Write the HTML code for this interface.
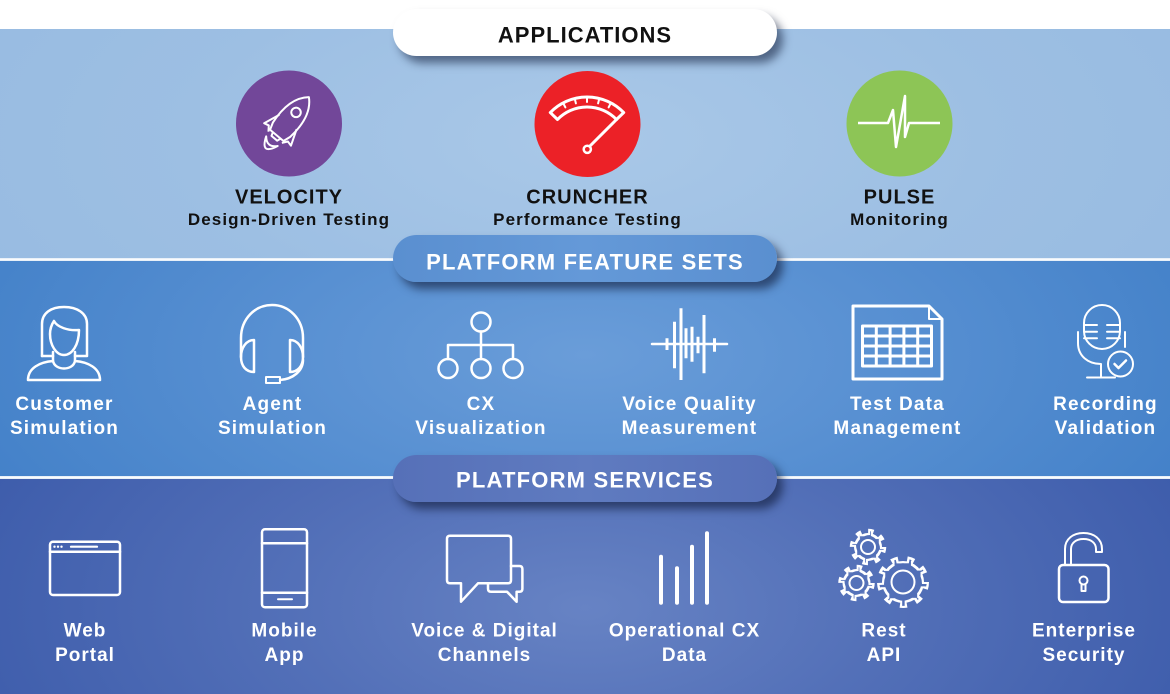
<!DOCTYPE html>
<html><head><meta charset="utf-8"><style>
html,body{margin:0;padding:0;}
body{width:1170px;height:694px;position:relative;overflow:hidden;background:#fff;font-family:"Liberation Sans",sans-serif;}
.b{position:absolute;left:0;width:1170px;}
.b1{top:29px;height:230px;background:radial-gradient(ellipse 720px 320px at 585px 110px,#a9c8e8 0%,#9dbfe3 55%,#97bbe1 100%);}
.b2{top:260px;height:218px;background:radial-gradient(ellipse 680px 300px at 585px 95px,#6a9dd9 0%,#5890d2 45%,#4280c8 100%);}
.b3{top:478px;height:216px;background:radial-gradient(ellipse 660px 330px at 585px 130px,#6783c4 0%,#5370b8 45%,#3d5cab 100%);}
.ln{position:absolute;left:0;width:1170px;height:3px;background:linear-gradient(#dce8f5,#ffffff,#dce8f5);}
.pill{position:absolute;left:393px;width:384px;height:47px;border-radius:24px;box-shadow:6px 7px 9px rgba(15,25,55,0.6);}
svg{position:absolute;left:0;top:0;}
.t{font-family:"Liberation Sans",sans-serif;font-weight:bold;text-anchor:middle;}
</style></head><body>
<div class="b b1"></div>
<div class="b b2"></div>
<div class="b b3"></div>
<div class="ln" style="top:258px"></div>
<div class="ln" style="top:476px"></div>
<div class="pill" style="top:9px;background:#fff;box-shadow:6px 7px 9px rgba(15,25,55,0.55);"></div>
<div class="pill" style="top:235px;background:linear-gradient(90deg,#5a8fd0,#6499d8 50%,#5a8fd0);"></div>
<div class="pill" style="top:455px;background:linear-gradient(90deg,#5670b8,#5f7bc0 50%,#5670b8);"></div>

<svg width="1170" height="694" viewBox="0 0 1170 694">
<defs>
<filter id="ol" x="-20%" y="-20%" width="140%" height="140%">
<feMorphology in="SourceAlpha" operator="erode" radius="2" result="e"/>
<feFlood flood-color="#fff" result="w"/>
<feComposite in="w" in2="SourceAlpha" operator="in" result="wa"/>
<feComposite in="wa" in2="e" operator="out"/>
</filter>
</defs>

<!-- pill texts -->
<text class="t" x="585" y="42.7" font-size="22" letter-spacing="1" fill="#111">APPLICATIONS</text>
<text class="t" x="585" y="269.3" font-size="22" letter-spacing="1.2" fill="#fff">PLATFORM FEATURE SETS</text>
<text class="t" x="585" y="487.7" font-size="22" letter-spacing="1.2" fill="#fff">PLATFORM SERVICES</text>

<!-- app circles -->
<circle cx="289" cy="123.5" r="53" fill="#724799"/>
<circle cx="587.5" cy="124" r="53" fill="#ec2127"/>
<circle cx="899.5" cy="123.5" r="53" fill="#8dc556"/>

<!-- rocket -->
<g transform="translate(288,122) rotate(40) scale(1.25)" fill="none" stroke="#fff" stroke-width="1.6" stroke-linejoin="round">
<path d="M0,-26 C8,-19 11,-8 9,8 L7,14 L-7,14 L-9,8 C-11,-8 -8,-19 0,-26 Z"/>
<path d="M-9,0 L-14,13 L-10,12 L-7,16"/>
<path d="M9,0 L14,13 L10,12 L7,16"/>
<path d="M-4,14 L-3,17 L3,17 L4,14"/>
<circle cx="0" cy="-10" r="3.8"/>
<path d="M-6,20 Q0,35 6,20 Q0,27 -6,20 Z"/>
</g>

<!-- gauge -->
<g fill="none" stroke="#fff" stroke-width="3" stroke-linejoin="round" stroke-linecap="round">
<path d="M550.3,112.6 A51,51 0 0 1 623.7,112.6 L616.5,119.5 A41,41 0 0 0 557.5,119.5 Z"/>
<path d="M563.1,103 L565.4,107.4 M574.7,98.5 L575.9,103.4 M587,97 L587,102 M599.3,98.5 L598.1,103.4 M610.9,103 L608.6,107.4" stroke-width="2"/>
<path d="M590,146 L616.5,119.5"/>
<circle cx="587.3" cy="149.3" r="3.6" fill="#ec2127" stroke-width="2.5"/>
</g>

<!-- pulse -->
<path d="M858,123 L888,123 L893,110 L896,147 L905,96 L905,137 L909,123 L940,123" fill="none" stroke="#fff" stroke-width="2.5" stroke-linejoin="round"/>

<!-- app texts -->
<text class="t" x="289" y="203.3" font-size="20" letter-spacing="1" fill="#111">VELOCITY</text>
<text class="t" x="289" y="225" font-size="17" letter-spacing="1.1" fill="#111">Design-Driven Testing</text>
<text class="t" x="587.5" y="203.3" font-size="20" letter-spacing="1" fill="#111">CRUNCHER</text>
<text class="t" x="587.5" y="225" font-size="17" letter-spacing="1.1" fill="#111">Performance Testing</text>
<text class="t" x="899.5" y="203.3" font-size="20" letter-spacing="1" fill="#111">PULSE</text>
<text class="t" x="899.5" y="225" font-size="17" letter-spacing="1.1" fill="#111">Monitoring</text>

<!-- feature icons -->
<g fill="none" stroke="#fff" stroke-width="2.5" stroke-linejoin="round" stroke-linecap="round">
<!-- customer -->
<path d="M42,356 L42,324 C42,313 51,307 64,307 C77,307 87,313 87,324 L87,356 L75,356"/>
<path d="M42,356 L53,356"/>
<path d="M54,321 C57,327 68,331 79,330 C79,345 72,355 64,355 C56,355 50,345 50,334 C50,328 52,324 54,321 Z"/>
<path d="M53,352 L53,361 C40,362 28,368 28,380 L100,380 C100,368 88,362 75,361 L75,352"/>
<path d="M53,361 C55,371 73,371 75,361"/>
<!-- agent -->
<path d="M241,357 L241,338 C241,319 255,305 272,305 C289,305 303,319 303,338 L303,357"/>
<path d="M254,340 L254,372 C246,372 241,366 241,357 C241,348 246,340 254,340 Z"/>
<path d="M290,340 L290,372 C298,372 303,366 303,357 C303,348 298,340 290,340 Z"/>
<path d="M303,360 C303,371 293,379 280,380"/>
<rect x="266" y="377" width="14" height="6" stroke-width="2"/>
<!-- cx tree -->
<circle cx="481" cy="322" r="9.5"/>
<path d="M481,331.5 L481,359 M448,359 L448,345 L513,345 L513,359"/>
<circle cx="448" cy="368.5" r="9.5"/>
<circle cx="481" cy="368.5" r="9.5"/>
<circle cx="513" cy="368.5" r="9.5"/>
<!-- waveform -->
<path d="M652,344 L727,344"/>
<g stroke-width="3" stroke-linecap="butt">
<path d="M667,338.3 L667,350 M674.5,321.7 L674.5,368.3 M681,308.3 L681,380 M686,328.3 L686,358.3 M692,326.7 L692,361.7 M698,336.7 L698,353.3 M704,315 L704,373.3 M714.5,338.3 L714.5,351.7"/>
</g>
<!-- test data -->
<path d="M853,306 L929,306 L942,319 L942,379 L853,379 Z" stroke-width="3"/>
<path d="M929,307 L929,319 L941,319" stroke-width="2"/>
<rect x="862.5" y="326" width="69" height="40" stroke-width="3"/>
<path d="M876.3,326 L876.3,366 M890.1,326 L890.1,366 M903.9,326 L903.9,366 M917.7,326 L917.7,366 M862.5,336 L931.5,336 M862.5,346 L931.5,346 M862.5,356 L931.5,356" stroke-width="3" stroke-linecap="butt"/>
<!-- mic -->
<rect x="1084" y="305" width="36" height="44" rx="18" stroke-width="2"/>
<path d="M1084,325 L1097,325 M1084,331.7 L1097,331.7 M1084,338.3 L1097,338.3 M1107,325 L1120,325 M1107,331.7 L1120,331.7 M1107,338.3 L1120,338.3" stroke-width="2"/>
<path d="M1078,332 L1078,343 C1078,356 1088,364 1101,364 L1101,377.5 M1087,377.5 L1115,377.5 M1125,332 L1125,347" stroke-width="2"/>
<circle cx="1120.5" cy="364" r="12.5" stroke-width="2"/>
<path d="M1114.5,364 L1118.5,368 L1126,360.5" stroke-width="2.5"/>
</g>

<!-- feature labels -->
<g class="t" font-size="19" letter-spacing="1.2" fill="#fff">
<text class="t" x="64.5" y="410">Customer</text>
<text class="t" x="64.5" y="434">Simulation</text>
<text class="t" x="272.5" y="410">Agent</text>
<text class="t" x="272.5" y="434">Simulation</text>
<text class="t" x="481" y="410">CX</text>
<text class="t" x="481" y="434">Visualization</text>
<text class="t" x="689.5" y="410">Voice Quality</text>
<text class="t" x="689.5" y="434">Measurement</text>
<text class="t" x="897.5" y="410">Test Data</text>
<text class="t" x="897.5" y="434">Management</text>
<text class="t" x="1105.5" y="410">Recording</text>
<text class="t" x="1105.5" y="434">Validation</text>
</g>

<!-- service icons -->
<g fill="none" stroke="#fff" stroke-width="2.5" stroke-linejoin="round" stroke-linecap="round">
<!-- web -->
<rect x="50" y="541.7" width="70" height="53.3" rx="3"/>
<path d="M50,551.7 L120,551.7"/>
<path d="M71,546.7 L97,546.7" stroke-width="2.2"/>
<!-- mobile -->
<rect x="262" y="529.3" width="45" height="78" rx="3"/>
<path d="M262,543.3 L307,543.3 M262,592.7 L307,592.7"/>
<path d="M278,599.3 L292,599.3" stroke-width="2"/>
<!-- chat -->
<path d="M450,535.7 L508,535.7 Q511,535.7 511,538.7 L511,580.3 Q511,583.3 508,583.3 L478,583.3 L461,601.7 L461,583.3 L450,583.3 Q447,583.3 447,580.3 L447,538.7 Q447,535.7 450,535.7 Z"/>
<path d="M511,566 L519.4,566 Q522.4,566 522.4,569 L522.4,588.7 Q522.4,591.7 519.4,591.7 L516.6,591.7 L516.6,601.7 L507,591.7 L491,591.7 Q488,591.7 488,588.7 L488,583.3"/>
<!-- bars -->
<path d="M661,556.7 L661,602.7 M677,568.3 L677,602.7 M692,546.7 L692,602.7 M707,533.3 L707,602.7" stroke-width="4"/>
<!-- lock -->
<rect x="1059" y="565" width="49.5" height="37" rx="4"/>
<path d="M1065,565 L1065,549 C1065,539 1073,533 1083.5,533 C1094,533 1102,539 1102,549 L1102,552 L1096,552 L1096,549 C1096,543 1091,539 1083.5,539 C1076,539 1071,543 1071,549 L1071,565" stroke-width="2"/>
<path d="M1081.5,584 L1081.5,591 L1085.5,591 L1085.5,584" stroke-width="2"/>
<circle cx="1083.5" cy="580.5" r="4" stroke-width="2"/>
</g>
<g fill="#fff">
<circle cx="54.5" cy="546.7" r="1.2"/><circle cx="58" cy="546.7" r="1.2"/><circle cx="61.5" cy="546.7" r="1.2"/>
</g>
<!-- gears -->
<g filter="url(#ol)">
<g fill="#fff">
<circle cx="903" cy="582" r="21"/>
<circle cx="903" cy="582" r="23" fill="none" stroke="#fff" stroke-width="6" stroke-dasharray="7 9.06"/>
</g>
</g>
<g filter="url(#ol)">
<g fill="#fff">
<circle cx="868" cy="547" r="14"/>
<circle cx="868" cy="547" r="16" fill="none" stroke="#fff" stroke-width="4.5" stroke-dasharray="5.5 7.07"/>
</g>
</g>
<g filter="url(#ol)">
<g fill="#fff">
<circle cx="856.5" cy="583" r="14"/>
<circle cx="856.5" cy="583" r="16" fill="none" stroke="#fff" stroke-width="4.5" stroke-dasharray="5.5 7.07"/>
</g>
</g>
<g fill="none" stroke="#fff" stroke-width="2">
<circle cx="903" cy="582" r="11.5"/>
<circle cx="868" cy="547" r="7"/>
<circle cx="856.5" cy="583" r="7"/>
</g>

<!-- service labels -->
<g fill="#fff">
<text class="t" x="85" y="636.3" font-size="19" letter-spacing="1">Web</text>
<text class="t" x="85" y="661" font-size="19" letter-spacing="1">Portal</text>
<text class="t" x="284.5" y="636.3" font-size="19" letter-spacing="1">Mobile</text>
<text class="t" x="284.5" y="661" font-size="19" letter-spacing="1">App</text>
<text class="t" x="484.5" y="636.3" font-size="19" letter-spacing="1">Voice &amp; Digital</text>
<text class="t" x="484.5" y="661" font-size="19" letter-spacing="1">Channels</text>
<text class="t" x="684.5" y="636.3" font-size="19" letter-spacing="1">Operational CX</text>
<text class="t" x="684.5" y="661" font-size="19" letter-spacing="1">Data</text>
<text class="t" x="884" y="636.3" font-size="19" letter-spacing="1">Rest</text>
<text class="t" x="884" y="661" font-size="19" letter-spacing="1">API</text>
<text class="t" x="1084" y="636.3" font-size="19" letter-spacing="1">Enterprise</text>
<text class="t" x="1084" y="661" font-size="19" letter-spacing="1">Security</text>
</g>
</svg>
</body></html>
